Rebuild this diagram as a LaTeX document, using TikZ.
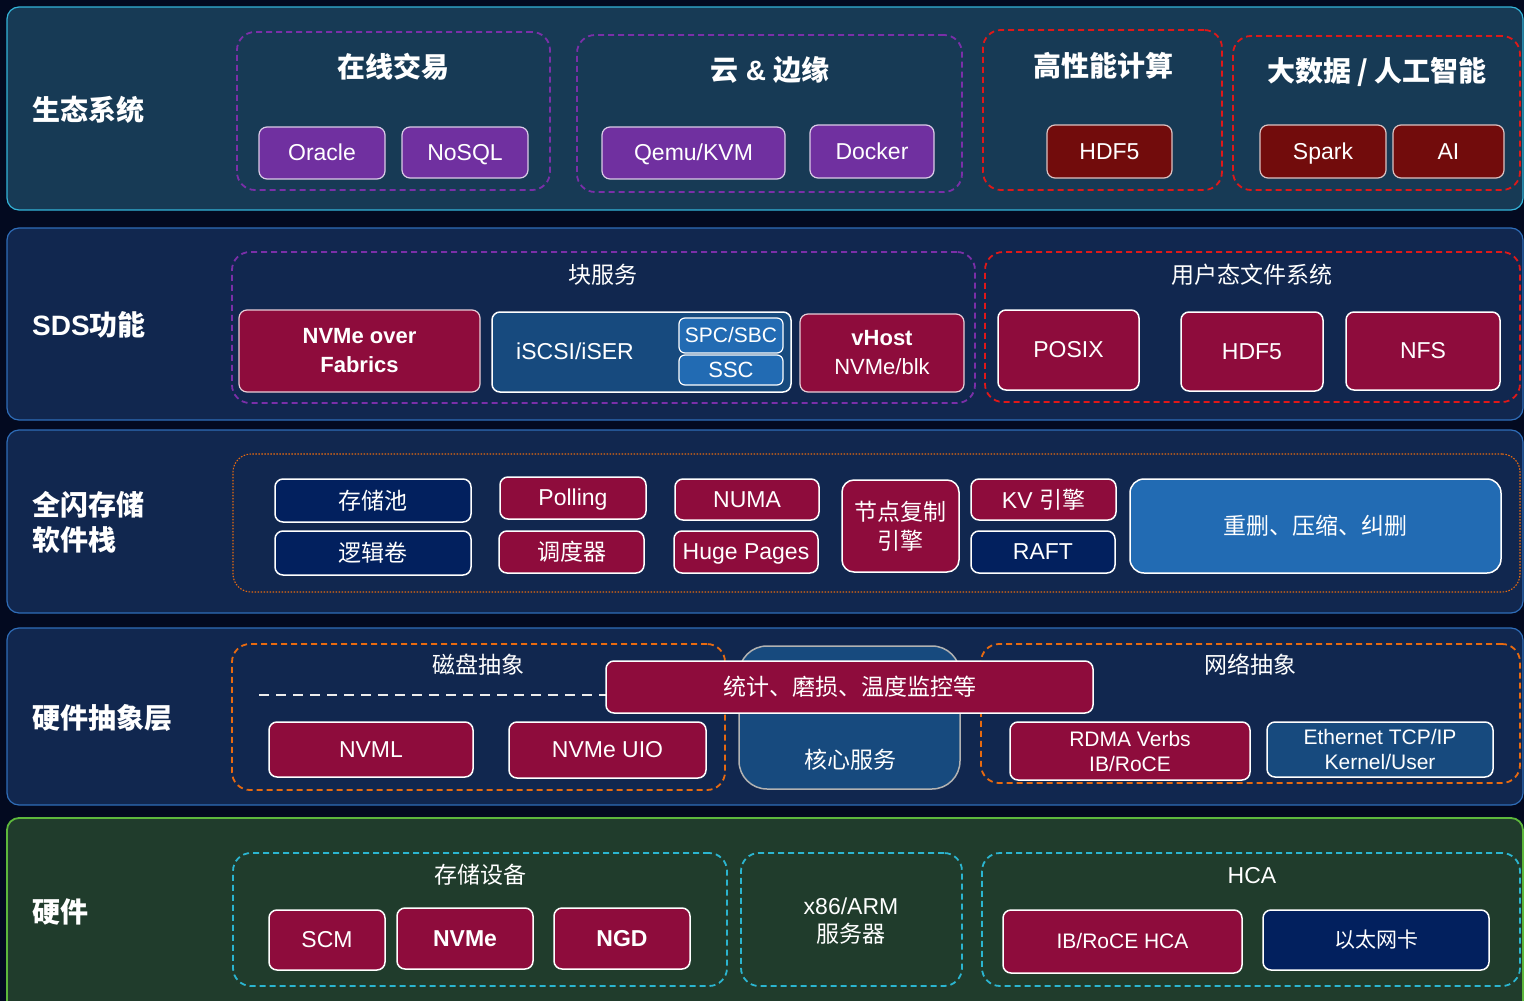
\documentclass[tikz,border=0pt]{standalone}
\usepackage{fontspec}
\setmainfont{Liberation Sans}
\newfontfamily\cjk{Noto Sans CJK SC}
\definecolor{bgc}{HTML}{030A20}
\definecolor{lay1}{HTML}{173A55}
\definecolor{lay1b}{HTML}{34B4D8}
\definecolor{layn}{HTML}{11274F}
\definecolor{laynb}{HTML}{2F6DB8}
\definecolor{lay5}{HTML}{203C2C}
\definecolor{lay5b}{HTML}{5DB83C}
\definecolor{purp}{HTML}{7030A0}
\definecolor{dred}{HTML}{720C0C}
\definecolor{crim}{HTML}{8E0C3C}
\definecolor{navyb}{HTML}{02205E}
\definecolor{midb}{HTML}{174A7E}
\definecolor{brb}{HTML}{226BB3}
\definecolor{gred}{HTML}{E01818}
\definecolor{gorg}{HTML}{E86A10}
\definecolor{gcyan}{HTML}{2BB5D0}
\definecolor{gpurp}{HTML}{7A2FA8}
\newcommand\bx[7]{\node[box,#6,minimum width=#4pt,minimum height=#5pt] (#1) at (#2,#3) {#7};}
\newcommand\grpn[7]{\node[grp,#6,minimum width=#4pt,minimum height=#5pt] (#1) at (#2,#3) {#7};}
\begin{document}
\begin{tikzpicture}[x=1pt,y=-1pt,
  layer/.style={rounded corners=12pt,line width=1.2pt,inner sep=0},
  grp/.style={draw,dash pattern=on 6pt off 4pt,line width=1.8pt,rounded corners=18pt,inner sep=0},
  box/.style={draw=white,line width=1.2pt,rounded corners=8pt,text=white,align=center,inner sep=0},
  sl/.style={text height=16pt,text depth=1pt},
  sls/.style={text height=15pt,text depth=1pt},
  f22/.style={font=\fontsize{22}{29}\selectfont},
  fb22/.style={font=\fontsize{22}{29}\selectfont\bfseries},
  fb23/.style={font=\fontsize{23}{28}\selectfont\bfseries},
  f21/.style={font=\fontsize{21}{25}\selectfont},
  f23/.style={font=\fontsize{23}{28}\selectfont},
  lbl/.style={text=white,anchor=west,align=left,inner sep=0,font=\fontsize{28}{35}\selectfont\bfseries},
  ttl/.style={text=white,inner sep=0,font=\fontsize{28}{33}\selectfont\bfseries},
  sub/.style={text=white,inner sep=0,align=center,font=\fontsize{23}{28}\selectfont}]
\clip (0,0) rectangle (1524,1001);
\fill[bgc] (0,0) rectangle (1524,1001);
% layers
\node[layer,draw=lay1b,fill=lay1,minimum width=1516pt,minimum height=203pt] (L1) at (765,108.5) {};
\node[layer,draw=laynb,fill=layn,minimum width=1516pt,minimum height=192pt] (L2) at (765,324) {};
\node[layer,draw=laynb,fill=layn,minimum width=1516pt,minimum height=183pt] (L3) at (765,521.5) {};
\node[layer,draw=laynb,fill=layn,minimum width=1516pt,minimum height=177pt] (L4) at (765,716.5) {};
\node[layer,draw=lay5b,fill=lay5,line width=1.8pt,minimum width=1516pt,minimum height=200pt] (L5) at (765,918) {};
% layer labels
\node[lbl] (t1) at (32,110) {\cjk 生态系统};
\node[lbl] (t2) at (32,325) {SDS{\cjk 功能}};
\node[lbl] (t3) at (32,522) {\cjk 全闪存储\\\cjk 软件栈};
\node[lbl] (t4) at (32,718) {\cjk 硬件抽象层};
\node[lbl] (t5) at (32,912) {\cjk 硬件};
% ===== Layer 1 =====
\grpn{g1}{393.5}{111}{313}{158}{draw=gpurp}{}
\grpn{g2}{769.5}{113.5}{385}{157}{draw=gpurp}{}
\grpn{g3}{1102.5}{110}{239}{160}{draw=gred}{}
\grpn{g4}{1376.5}{113}{287}{154}{draw=gred}{}
\node[ttl] (g1t) at (393,67) {\cjk 在线交易};
\node[ttl] (g2t) at (770,70) {{\cjk 云} \& {\cjk 边缘}};
\node[ttl] (g3t) at (1103,66) {\cjk 高性能计算};
\node[ttl] (g4t) at (1377,72) {\cjk 大数据 / 人工智能};
\bx{oracle}{322}{153}{126}{52}{fill=purp,draw=white!75!purp,f23,sl}{Oracle}
\bx{nosql}{465}{152.5}{126}{51}{fill=purp,draw=white!75!purp,f23,sl}{NoSQL}
\bx{qemu}{693.5}{153}{183}{52}{fill=purp,draw=white!75!purp,f23,sl}{Qemu/KVM}
\bx{docker}{872}{151.5}{124}{53}{fill=purp,draw=white!75!purp,f23,sl}{Docker}
\bx{hdfa}{1109.5}{151.5}{125}{53}{fill=dred,draw=white!75!dred,f23,sl}{HDF5}
\bx{spark}{1323}{151.5}{126}{53}{fill=dred,draw=white!75!dred,f23,sl}{Spark}
\bx{ai}{1448.5}{151.5}{111}{53}{fill=dred,draw=white!75!dred,f23,sl}{AI}
% ===== Layer 2 =====
\grpn{gblk}{603.5}{327.5}{743}{151}{draw=gpurp}{}
\grpn{gufs}{1252.5}{327}{535}{150}{draw=gred}{}
\node[sub] (gblkt) at (603,275) {\cjk 块服务};
\node[sub] (gufst) at (1252,275) {\cjk 用户态文件系统};
\bx{nvmeof}{359.5}{351}{241}{82}{fill=crim,draw=white!80!crim,fb22}{NVMe over\\Fabrics}
\bx{iscsi}{641.5}{352}{299}{80}{fill=midb,line width=1.5pt}{}
\node[text=white,inner sep=0,f23,sl] (iscsit) at (575,352) {iSCSI/iSER};
\bx{spc}{731}{335.5}{104}{35}{fill=brb,f21,sls,rounded corners=6pt}{SPC/SBC}
\bx{ssc}{731}{370}{104}{30}{fill=brb,f22,sls,rounded corners=6pt}{SSC}
\bx{vhost}{882}{353}{164}{78}{fill=crim,draw=white!80!crim,f22}{\textbf{vHost}\\NVMe/blk}
\bx{posix}{1068.5}{350}{141}{80}{fill=crim,line width=1.5pt,f23,sl}{POSIX}
\bx{hdfb}{1252}{351.5}{142}{79}{fill=crim,line width=1.5pt,f23,sl}{HDF5}
\bx{nfs}{1423}{351}{154}{78}{fill=crim,line width=1.5pt,f23,sl}{NFS}
% ===== Layer 3 =====
\grpn{gsw}{876.5}{523}{1287}{138}{draw=gorg,dash pattern=on 1.5pt off 1.5pt,line width=1.1pt}{}
\bx{pool}{373}{500.5}{196}{43}{fill=navyb,line width=1.5pt,f23}{\cjk 存储池}
\bx{lv}{373}{553}{196}{44}{fill=navyb,line width=1.5pt,f23}{\cjk 逻辑卷}
\bx{polling}{573}{498}{146}{42}{fill=crim,line width=1.5pt,f23,sl}{Polling}
\bx{sched}{571.5}{552}{145}{42}{fill=crim,line width=1.5pt,f23}{\cjk 调度器}
\bx{numa}{747}{499.5}{144}{41}{fill=crim,line width=1.5pt,f23,sl}{NUMA}
\bx{huge}{746}{552}{144}{42}{fill=crim,line width=1.5pt,f23,sl}{Huge Pages}
\bx{repl}{900.5}{526}{117}{92}{fill=crim,line width=1.5pt,rounded corners=12pt,font=\fontsize{23}{29}\selectfont\cjk}{节点复制\\引擎}
\bx{kv}{1043.5}{499.5}{145}{41}{fill=crim,line width=1.5pt,f23}{KV {\cjk 引擎}}
\bx{raft}{1043}{552}{144}{42}{fill=navyb,line width=1.5pt,f23,sl}{RAFT}
\bx{dedup}{1315.5}{526}{371}{94}{fill=brb,line width=1.5pt,rounded corners=14pt,f23}{\cjk 重删、压缩、纠删}
% ===== Layer 4 =====
\grpn{gdisk}{478.5}{717}{493}{146}{draw=gorg}{}
\grpn{gnet}{1250.5}{713.5}{539}{139}{draw=gorg}{}
\node[sub] (gdiskt) at (478,665) {\cjk 磁盘抽象};
\node[sub] (gnett) at (1250,665) {\cjk 网络抽象};
\coordinate (dl1) at (259,695);
\coordinate (dl2) at (606,695);
\draw[white!85!gray,line width=2pt,dash pattern=on 10pt off 7pt] (dl1) -- (dl2);
\bx{nvml}{371}{749.5}{204}{55}{fill=crim,line width=1.5pt,f23,sl}{NVML}
\bx{uio}{607.5}{750}{197}{56}{fill=crim,line width=1.5pt,f23,sl}{NVMe UIO}
\bx{core}{849.5}{717.5}{221}{143}{fill=midb,draw=gray!60!white,line width=1.5pt,rounded corners=28pt}{}
\node[sub] (coret) at (850,760) {\cjk 核心服务};
\bx{stats}{849.5}{687}{487}{52}{fill=crim,line width=1.5pt,f23}{\cjk 统计、磨损、温度监控等}
\bx{rdma}{1130}{751}{240}{58}{fill=crim,line width=1.5pt,f21}{RDMA Verbs\\IB/RoCE}
\bx{eth}{1380}{749.5}{226}{55}{fill=midb,line width=1.5pt,f21}{Ethernet TCP/IP\\Kernel/User}
% ===== Layer 5 =====
\grpn{gstore}{480}{919.5}{494}{133}{draw=gcyan}{}
\grpn{gsrv}{851.5}{919.5}{221}{133}{draw=gcyan}{}
\grpn{ghca}{1251}{919.5}{538}{133}{draw=gcyan}{}
\node[sub] (gstoret) at (480,875) {\cjk 存储设备};
\node[sub] (gsrvt) at (851,921) {x86/ARM\\{\cjk 服务器}};
\node[sub,sl] (ghcat) at (1252,876) {HCA};
\bx{scm}{327}{940}{116}{60}{fill=crim,line width=1.5pt,f23,sl}{SCM}
\bx{nvme}{465}{938.5}{136}{61}{fill=crim,line width=1.5pt,fb23,sl}{NVMe}
\bx{ngd}{622}{938.5}{136}{61}{fill=crim,line width=1.5pt,fb23,sl}{NGD}
\bx{ibhca}{1122.5}{941.5}{239}{63}{fill=crim,line width=1.5pt,f21,sls}{IB/RoCE HCA}
\bx{ethc}{1376}{940}{226}{60}{fill=navyb,line width=1.5pt,f21}{\cjk 以太网卡}
\end{tikzpicture}
\end{document}
